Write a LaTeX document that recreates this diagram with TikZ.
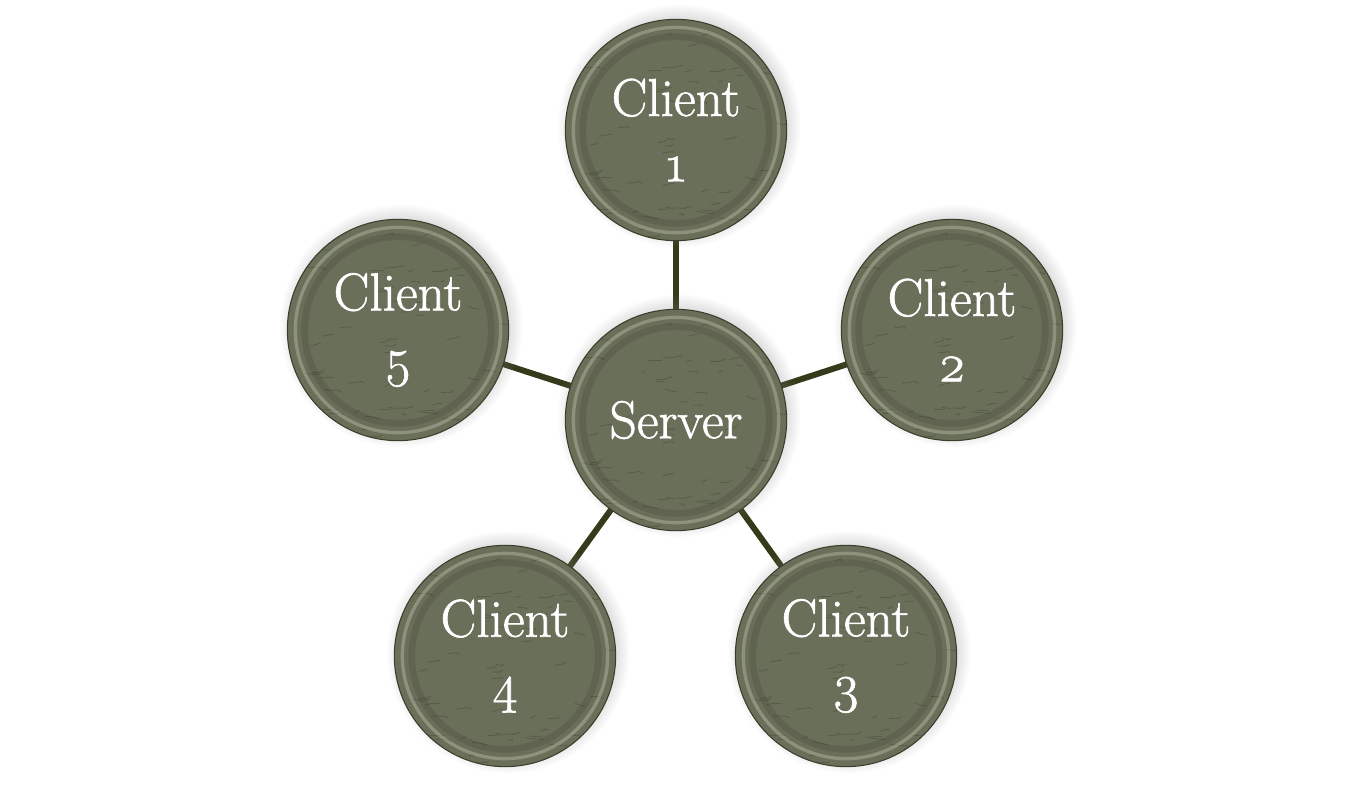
\documentclass[tikz,border=0pt]{standalone}
\usepackage{fontspec}
\newfontfamily\discfont{Latin Modern Roman}[FakeBold=1.2]
\usetikzlibrary{backgrounds,shadows}

\definecolor{stone}{RGB}{106,111,90}
\definecolor{stoneedge}{RGB}{58,62,42}
\definecolor{stonerim}{RGB}{196,200,176}
\definecolor{stonecrack}{RGB}{52,58,36}
\definecolor{linkcol}{RGB}{55,58,26}

\tikzset{
  disc/.style={circle, minimum size=166pt, inner sep=0pt,
    fill=stone, draw=stoneedge, line width=0.8pt,
    text=white, align=center, font=\discfont\fontsize{40}{49}\selectfont,
    circular drop shadow={shadow xshift=2pt, shadow yshift=3pt, opacity=0.3},
    path picture={
      \pgfmathsetseed{7}
      \foreach \k in {1,...,70}
        \draw[stonecrack, opacity=0.35, line width=0.6pt]
          ([shift={(rnd*166pt,rnd*166pt)}]path picture bounding box.south west)
          -- ++(rnd*8pt+2pt,rnd*3pt-1.5pt) -- ++(rnd*6pt,rnd*4pt-2pt);
      \draw[stonerim, opacity=0.4, line width=2.5pt]
        (path picture bounding box.center) circle[radius=77pt];
      \draw[black, opacity=0.1, line width=5pt]
        (path picture bounding box.center) circle[radius=70pt];
    }},
  link/.style={draw=linkcol, line width=4.5pt}
}

\begin{document}
\begin{tikzpicture}[x=0.75pt,y=0.75pt,yscale=-1,xscale=1]
\useasboundingbox (0,0) rectangle (1350,786);

%Server
\node [disc] (server) at (676,420) {Server};

%Clients round the server
\node [disc] (client1) at (676,130) {Client\\\oldstylenums{1}};
\node [disc] (client2) at (952,330) {Client\\\oldstylenums{2}};
\node [disc] (client3) at (846,656) {Client\\\oldstylenums{3}};
\node [disc] (client4) at (505,656) {Client\\\oldstylenums{4}};
\node [disc] (client5) at (398,330) {Client\\\oldstylenums{5}};

%Links
\begin{pgfonlayer}{background}
\foreach \i in {1,...,5}
  \draw [link] (server.center) -- (client\i.center);
\end{pgfonlayer}

\end{tikzpicture}
\end{document}
